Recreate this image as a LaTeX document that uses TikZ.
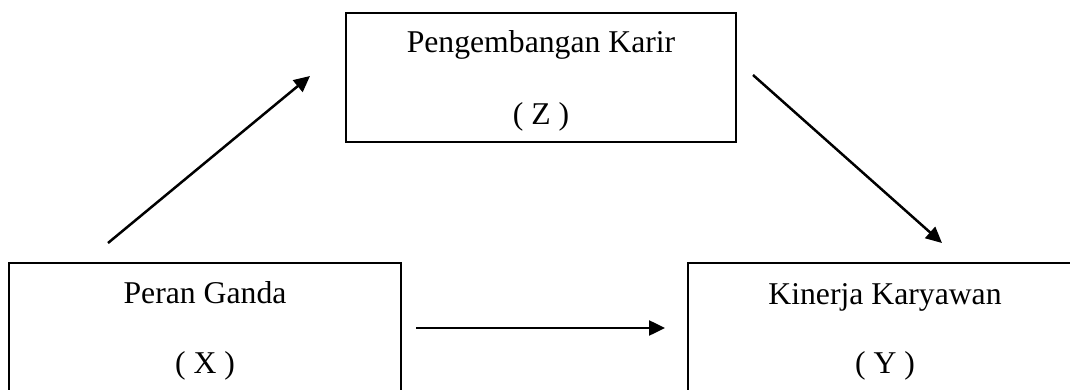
\documentclass[tikz,border=0pt]{standalone}
\usepackage{fontspec}
\setmainfont{Liberation Serif}
\usetikzlibrary{arrows.meta}
\begin{document}
\begin{tikzpicture}[x=1pt,y=-1pt,
  box/.style={draw,line width=2pt,inner sep=0pt},
  lbl/.style={anchor=base,inner sep=0pt,font=\fontsize{31.7}{38}\selectfont},
  conn/.style={line width=2.5pt,-{Triangle[length=16pt,width=15pt]}}]
\useasboundingbox (0,0) rectangle (1070,390);
\clip (0,0) rectangle (1070,390);
% boxes
\node[box,minimum width=390pt,minimum height=129pt] (Z) at (541,77.5) {};
\node[box,minimum width=392pt,minimum height=140pt] (X) at (205,333) {};
\node[box,minimum width=394pt,minimum height=140pt] (Y) at (885,333) {};
% labels
\node[lbl] (Zt) at (541,53) {Pengembangan Karir};
\node[lbl] (Zv) at (541,125) {( Z )};
\node[lbl] (Xt) at (205,303) {Peran Ganda};
\node[lbl] (Xv) at (205,373) {( X )};
\node[lbl] (Yt) at (885,304) {Kinerja Karyawan};
\node[lbl] (Yv) at (885,373) {( Y )};
% connector ends
\coordinate (a1s) at (108,243);
\coordinate (a1e) at (310,76);
\coordinate (a2s) at (753,75);
\coordinate (a2e) at (942,243);
\coordinate (a3s) at (416,328);
\coordinate (a3e) at (665,328);
\draw[conn] (a1s) -- (a1e);
\draw[conn] (a2s) -- (a2e);
\draw[conn] (a3s) -- (a3e);
\end{tikzpicture}
\end{document}
